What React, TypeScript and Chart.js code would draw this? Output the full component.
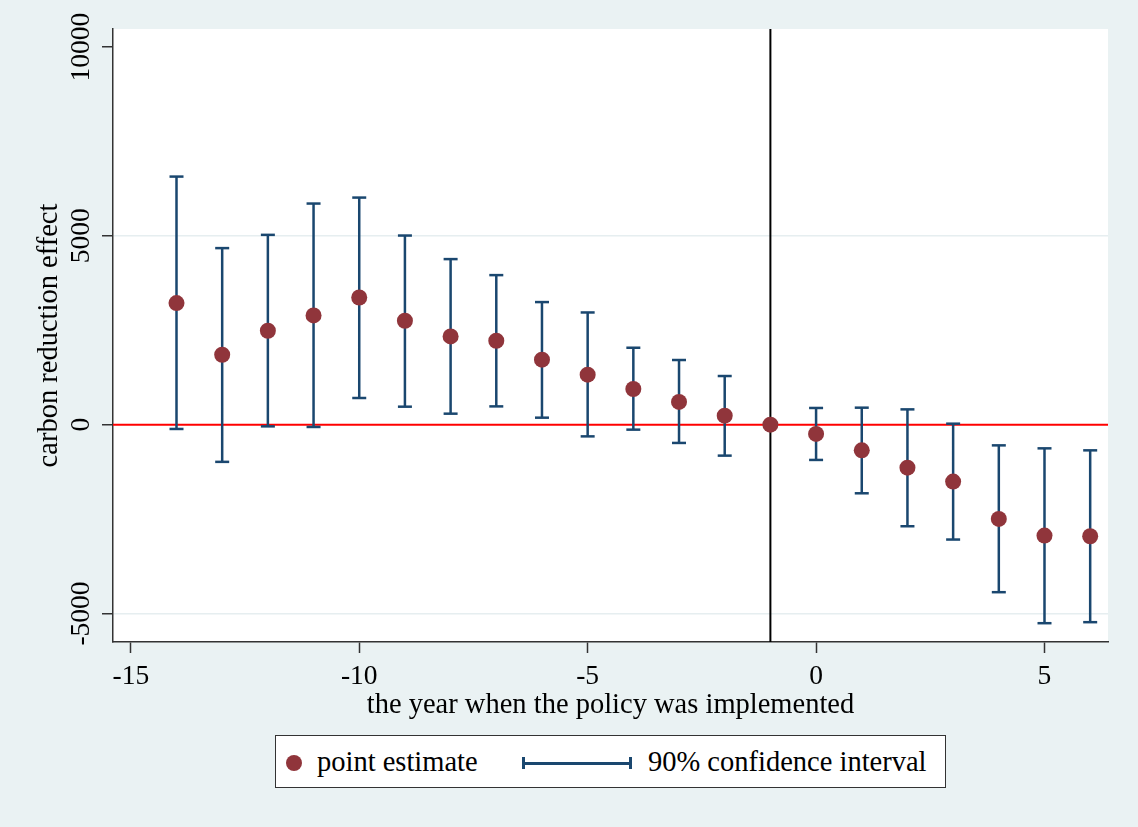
import React, { useEffect, useRef } from "react";
import { Chart, registerables } from "chart.js";

Chart.register(...registerables);

// ---- data ----
const years = [-14, -13, -12, -11, -10, -9, -8, -7, -6, -5, -4, -3, -2, -1, 0, 1, 2, 3, 4, 5, 6];
const estimates = [3220, 1852, 2487, 2892, 3368, 2751, 2336, 2222, 1720, 1323, 944, 601, 238, 0, -246, -680, -1138, -1508, -2495, -2937, -2955];
const ciLower: (number | null)[] = [-114, -985, -45, -61, 706, 476, 291, 484, 185, -310, -132, -484, -820, null, -934, -1817, -2690, -3042, -4436, -5257, -5230];
const ciUpper: (number | null)[] = [6569, 4675, 5026, 5855, 6013, 5008, 4384, 3960, 3246, 2971, 2037, 1712, 1288, null, 442, 450, 405, 26, -548, -627, -680];

const xTicks = [-15, -10, -5, 0, 5];
const yTicks = [-5000, 0, 5000, 10000];
const gridValues = [-5000, 5000];
const policyYear = -1;
const zeroLine = 0;

const xMin = -15.39;
const xMax = 6.39;
const yMin = -5755;
const yMax = 10477;

const xTitle = "the year when the policy was implemented";
const yTitle = "carbon reduction effect";
const legendPoint = "point estimate";
const legendCI = "90% confidence interval";

const NAVY = "#1a476f";
const MAROON = "#90353b";
const BG = "#eaf2f3";
const AXIS = "#333333";
const FONT = "'Liberation Serif', 'Times New Roman', serif";

const plotBg = {
  id: "plotBg",
  beforeDraw(chart: any) {
    const { ctx, chartArea } = chart;
    const { left, top, right, bottom } = chartArea;
    ctx.save();
    ctx.fillStyle = "#ffffff";
    ctx.fillRect(left, top, right - left, bottom - top);
    ctx.restore();
  },
};

export default function App() {
  const ref = useRef<HTMLCanvasElement | null>(null);

  useEffect(() => {
    if (!ref.current) return;

    const pointData = years.map((x, i) => ({ x, y: estimates[i] }));
    const ciSegs: { x: number; y: number | null }[] = [];
    const capData: { x: number; y: number }[] = [];
    years.forEach((x, i) => {
      const lo = ciLower[i];
      const hi = ciUpper[i];
      if (lo === null || hi === null) return;
      ciSegs.push({ x, y: lo }, { x, y: hi }, { x, y: null });
      capData.push({ x, y: lo }, { x, y: hi });
    });

    const chart = new Chart(ref.current, {
      type: "scatter",
      data: {
        datasets: [
          {
            label: legendPoint,
            data: pointData,
            pointRadius: 8,
            pointBackgroundColor: MAROON,
            pointBorderColor: MAROON,
            pointBorderWidth: 0,
            order: 0,
          } as any,
          {
            label: "caps",
            data: capData,
            pointStyle: "line",
            pointRadius: 7,
            pointBorderWidth: 2.5,
            pointBorderColor: NAVY,
            order: 1,
          } as any,
          {
            label: legendCI,
            data: ciSegs,
            showLine: true,
            spanGaps: false,
            borderColor: NAVY,
            borderWidth: 2.5,
            pointRadius: 0,
            order: 2,
          } as any,
          {
            label: "policy",
            data: [
              { x: policyYear, y: yMin },
              { x: policyYear, y: yMax },
            ],
            showLine: true,
            borderColor: "#000000",
            borderWidth: 2,
            pointRadius: 0,
            order: 3,
          } as any,
          {
            label: "zero",
            data: [
              { x: xMin, y: zeroLine },
              { x: xMax, y: zeroLine },
            ],
            showLine: true,
            borderColor: "#ff0000",
            borderWidth: 2,
            pointRadius: 0,
            order: 4,
          } as any,
        ],
      },
      options: {
        animation: false,
        responsive: true,
        maintainAspectRatio: false,
        events: [],
        layout: { padding: { left: 0, top: 29, right: 30, bottom: 100 } },
        plugins: {
          legend: { display: false },
          tooltip: { enabled: false },
        },
        scales: {
          x: {
            type: "linear",
            min: xMin,
            max: xMax,
            afterBuildTicks: (scale: any) => {
              scale.ticks = xTicks.map((v) => ({ value: v }));
            },
            afterFit: (scale: any) => {
              scale.height = 85;
            },
            grid: {
              drawOnChartArea: false,
              drawTicks: true,
              tickLength: 11,
              tickColor: AXIS,
              tickWidth: 1.5,
            },
            border: { display: true, color: AXIS, width: 1.5 },
            ticks: {
              color: "#000",
              padding: 7,
              maxRotation: 0,
              minRotation: 0,
              font: { family: FONT, size: 27.5 },
              callback: (v: any) => String(v),
            },
            title: {
              display: true,
              text: xTitle,
              color: "#000",
              font: { family: FONT, size: 28.5 },
              padding: { top: 0, bottom: 4 },
            },
          },
          y: {
            type: "linear",
            min: yMin,
            max: yMax,
            afterBuildTicks: (scale: any) => {
              scale.ticks = yTicks.map((v) => ({ value: v }));
            },
            afterFit: (scale: any) => {
              scale.width = 113;
            },
            grid: {
              drawOnChartArea: true,
              drawTicks: true,
              tickLength: 11,
              tickColor: AXIS,
              tickWidth: 1.5,
              lineWidth: 1.5,
              color: (ctx: any) =>
                ctx.tick && gridValues.includes(ctx.tick.value) ? "#e6eef0" : "rgba(0,0,0,0)",
            },
            border: { display: true, color: AXIS, width: 1.5 },
            ticks: {
              color: "#000",
              minRotation: 90,
              maxRotation: 90,
              crossAlign: "center",
              padding: -14,
              font: { family: FONT, size: 27.5 },
              callback: (v: any) => String(v),
            },
            title: {
              display: true,
              text: yTitle,
              color: "#000",
              font: { family: FONT, size: 28.5 },
              padding: { top: 32, bottom: 0 },
            },
          },
        },
      },
      plugins: [plotBg],
    } as any);

    return () => chart.destroy();
  }, []);

  return (
    <div
      style={{
        position: "absolute",
        left: 0,
        top: 0,
        width: 1138,
        height: 827,
        background: BG,
        fontFamily: FONT,
      }}
    >
      <canvas ref={ref} />
      <div
        style={{
          position: "absolute",
          left: 275,
          top: 735,
          width: 671,
          height: 53,
          boxSizing: "border-box",
          border: `1.5px solid ${AXIS}`,
          background: "#ffffff",
        }}
      >
        <div
          style={{
            position: "absolute",
            left: 10,
            top: 19,
            width: 16,
            height: 16,
            borderRadius: "50%",
            background: MAROON,
          }}
        />
        <div
          style={{
            position: "absolute",
            left: 41,
            top: 0,
            height: 51,
            lineHeight: "51px",
            fontSize: 28.5,
            color: "#000",
            whiteSpace: "nowrap",
          }}
        >
          {legendPoint}
        </div>
        <div style={{ position: "absolute", left: 246, top: 26, width: 109, height: 2.5, background: NAVY }} />
        <div style={{ position: "absolute", left: 246, top: 21, width: 2.5, height: 12, background: NAVY }} />
        <div style={{ position: "absolute", left: 353, top: 21, width: 2.5, height: 12, background: NAVY }} />
        <div
          style={{
            position: "absolute",
            left: 372,
            top: 0,
            height: 51,
            lineHeight: "51px",
            fontSize: 28.5,
            color: "#000",
            whiteSpace: "nowrap",
          }}
        >
          {legendCI}
        </div>
      </div>
    </div>
  );
}
